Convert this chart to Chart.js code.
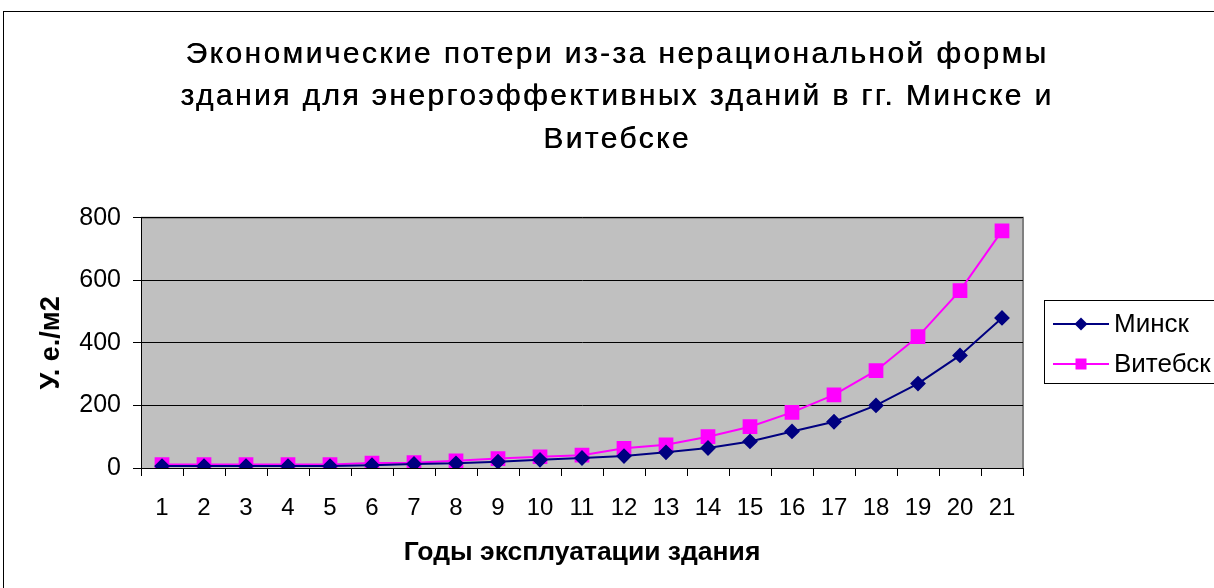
<!DOCTYPE html>
<html>
<head>
<meta charset="utf-8">
<script src="https://cdn.jsdelivr.net/npm/chart.js@4"></script>
<style>
  html, body { margin: 0; padding: 0; background: #fff; }
  #wrap { width: 1214px; height: 588px; position: relative; }
</style>
</head>
<body>
<div id="wrap"><canvas id="c" width="1214" height="588"></canvas></div>
<script>
// Years of building operation
const categories = ['1','2','3','4','5','6','7','8','9','10','11','12','13','14','15','16','17','18','19','20','21'];
// Economic losses, USD-equivalent per m2
const minsk   = [6, 6, 6, 6, 6, 9, 13, 15, 20, 26, 32, 38, 50, 64, 85, 117, 148, 200, 270, 360, 480];
const vitebsk = [11, 11, 11, 11, 11, 16, 17, 23, 30, 36, 41, 63, 74, 100, 132, 178, 234, 311, 420, 567, 758];
const yTicks  = [0, 200, 400, 600, 800];

const FONT = "'Liberation Sans', Arial, sans-serif";

// Gray plot background, outer frame and boxed legend
const decor = {
  id: 'decor',
  beforeDraw(chart) {
    const { ctx, chartArea: a } = chart;
    ctx.save();
    ctx.fillStyle = '#fff';
    ctx.fillRect(0, 0, chart.width, chart.height);
    ctx.strokeStyle = '#000';
    ctx.lineWidth = 1;
    ctx.strokeRect(3.5, 11.5, 1400, 700);
    ctx.fillStyle = '#C0C0C0';
    ctx.fillRect(a.left, a.top, a.right - a.left, a.bottom - a.top);
    ctx.strokeStyle = '#808080';
    ctx.lineWidth = 2;
    ctx.beginPath();
    ctx.moveTo(a.left, a.top);
    ctx.lineTo(a.right, a.top);
    ctx.lineTo(a.right, a.bottom);
    ctx.stroke();
    ctx.restore();
  },
  afterDraw(chart) {
    const { ctx } = chart;
    const bx = 1044, by = 300, bw = 180, bh = 83;
    ctx.save();
    ctx.fillStyle = '#fff';
    ctx.fillRect(bx, by, bw, bh);
    ctx.strokeStyle = '#000';
    ctx.lineWidth = 1;
    ctx.strokeRect(bx + 0.5, by + 0.5, bw, bh);
    ctx.font = '26px ' + FONT;
    ctx.textBaseline = 'middle';
    chart.data.datasets.forEach((ds, i) => {
      const y = by + 24 + i * 40;
      ctx.strokeStyle = ds.borderColor;
      ctx.lineWidth = 2;
      ctx.beginPath();
      ctx.moveTo(1053, y);
      ctx.lineTo(1109, y);
      ctx.stroke();
      ctx.fillStyle = ds.pointBackgroundColor;
      ctx.beginPath();
      if (ds.pointStyle === 'rectRot') {
        const r = 6.5;
        ctx.moveTo(1081 - r, y); ctx.lineTo(1081, y - r);
        ctx.lineTo(1081 + r, y); ctx.lineTo(1081, y + r);
        ctx.closePath();
      } else {
        ctx.rect(1081 - 5.5, y - 5.5, 11, 11);
      }
      ctx.fill();
      ctx.fillStyle = '#000';
      ctx.fillText(ds.label, 1114, y + 1);
    });
    ctx.restore();
  }
};

const chart = new Chart(document.getElementById('c'), {
  type: 'line',
  data: {
    labels: categories,
    datasets: [
      {
        label: 'Минск',
        data: minsk,
        borderColor: '#000080',
        backgroundColor: '#000080',
        pointBackgroundColor: '#000080',
        pointBorderColor: '#000080',
        pointStyle: 'rectRot',
        pointRadius: 6.5,
        borderWidth: 2,
        tension: 0
      },
      {
        label: 'Витебск',
        data: vitebsk,
        borderColor: '#FF00FF',
        backgroundColor: '#FF00FF',
        pointBackgroundColor: '#FF00FF',
        pointBorderColor: '#FF00FF',
        pointStyle: 'rect',
        pointRadius: 9,
        borderWidth: 2,
        tension: 0
      }
    ]
  },
  options: {
    responsive: false,
    animation: false,
    layout: { padding: { left: 20, right: 0, top: 0, bottom: 0 } },
    plugins: {
      legend: { display: false },
      tooltip: { enabled: false },
      title: {
        display: true,
        text: ['Экономические потери из-за нерациональной формы',
               'здания для энергоэффективных зданий в гг. Минске и',
               'Витебске'],
        color: '#000',
        font: { family: FONT, size: 30, weight: 'normal', lineHeight: 1.42 },
        padding: { top: 33, bottom: 57 }
      }
    },
    scales: {
      x: {
        offset: true,
        grid: { display: true, drawOnChartArea: false, offset: true, color: '#000', tickLength: 8, tickColor: '#000' },
        border: { display: true, color: '#000', width: 1 },
        ticks: { color: '#000', font: { family: FONT, size: 24 }, padding: 18, maxRotation: 0, autoSkip: false },
        title: {
          display: true,
          text: 'Годы эксплуатации здания',
          color: '#000',
          font: { family: FONT, size: 26.5, weight: 'bold' },
          padding: { top: 0, bottom: 19 }
        },
        afterFit(s) { s.height = 120; }
      },
      y: {
        min: 0, max: 800,
        afterBuildTicks(s) { s.ticks = yTicks.map(v => ({ value: v })); },
        grid: { color: '#000', lineWidth: 1, tickLength: 8, tickColor: '#000' },
        border: { display: true, color: '#000', width: 1 },
        ticks: { color: '#000', font: { family: FONT, size: 25 }, padding: 12 },
        title: {
          display: true,
          text: 'У. е./м2',
          color: '#000',
          font: { family: FONT, size: 27, weight: 'bold' },
          padding: { top: 15, bottom: 0 }
        },
        afterFit(s) { s.width = 121; }
      },
      spacer: {
        type: 'linear',
        position: 'right',
        display: true,
        grid: { display: false },
        border: { display: false },
        ticks: { display: false },
        afterFit(s) { s.width = 191; }
      }
    }
  },
  plugins: [decor]
});

// Title is set with wider tracking and a slightly heavier stroke
const tb = chart.titleBlock;
if (tb) {
  const baseDraw = tb.draw.bind(tb);
  tb.draw = function (area) {
    const ctx = chart.ctx;
    ctx.save();
    ctx.letterSpacing = '2.4px';
    baseDraw(area);
    ctx.translate(0.4, 0);
    baseDraw(area);
    ctx.restore();
  };
  chart.draw();
}
</script>
</body>
</html>
